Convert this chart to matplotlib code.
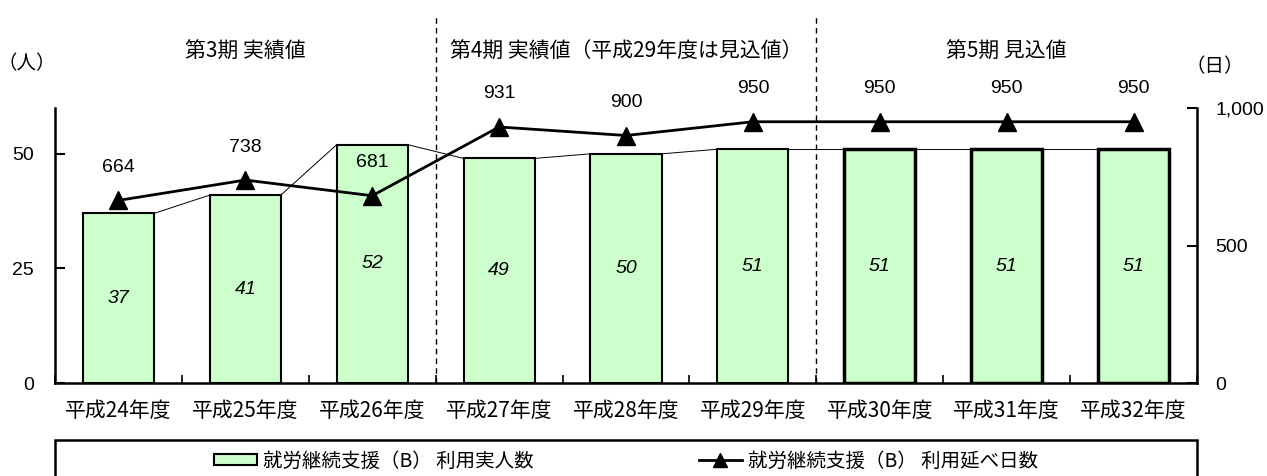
import matplotlib
matplotlib.use("Agg")
import matplotlib.pyplot as plt
from matplotlib.lines import Line2D
from matplotlib.patches import Patch, Rectangle
import numpy as np

JP = ['Noto Sans CJK JP', 'DejaVu Sans']
NUM = ['Liberation Sans', 'DejaVu Sans']
plt.rcParams['font.family'] = JP

categories = ["平成24年度", "平成25年度", "平成26年度", "平成27年度", "平成28年度",
              "平成29年度", "平成30年度", "平成31年度", "平成32年度"]
persons = [37, 41, 52, 49, 50, 51, 51, 51, 51]
days = [664, 738, 681, 931, 900, 950, 950, 950, 950]
period_titles = ["第3期 実績値", "第4期 実績値（平成29年度は見込値）", "第5期 見込値"]
bar_label = "就労継続支援（B） 利用実人数"
line_label = "就労継続支援（B） 利用延べ日数"

W, H = 1267, 476
fig = plt.figure(figsize=(W/100, H/100), dpi=100)
ax = fig.add_axes([55/W, 1-383/H, (1197-55)/W, (383-108)/H])
ax2 = ax.twinx()

x = np.arange(len(categories))
bw = 0.56
lws = [1.5]*6 + [2.5]*3
ax.bar(x, persons, width=bw, color="#CCFFCC", edgecolor="black", linewidth=lws, zorder=2)
for xi, v in zip(x, persons):
    ax.text(xi, v/2, str(v), ha="center", va="center", fontsize=14,
            style="italic", family=NUM)
# series lines
for i in range(len(x)-1):
    ax.plot([x[i]+bw/2, x[i+1]-bw/2], [persons[i], persons[i+1]], color="black", lw=0.7, zorder=1)

ax.set_xlim(-0.5, len(x)-0.5)
ax.set_ylim(0, 60)
ax.set_yticks([0, 25, 50])
ax.set_xticks(x)
ax.set_xticklabels(categories, fontsize=15)
ax.set_xticks(np.arange(-0.5, len(x)), minor=True)
ax.tick_params(axis="x", which="major", length=0, pad=12)
ax.tick_params(axis="x", which="minor", direction="in", length=6, width=1.2)
ax.tick_params(axis="y", direction="in", length=7, width=1.5, pad=15)
for lab in ax.get_yticklabels():
    lab.set_fontsize(14); lab.set_family(NUM)
ax.spines["top"].set_visible(False)
ax2.spines["top"].set_visible(False)
for s in ["left", "bottom"]:
    ax.spines[s].set_linewidth(1.8)
ax2.spines["right"].set_linewidth(1.8)
ax2.spines["left"].set_visible(False)
ax2.spines["bottom"].set_visible(False)

ax2.plot(x, days, color="black", lw=2, marker="^", markersize=13, zorder=5)
ax2.set_ylim(0, 1000)
ax2.set_yticks([0, 500, 1000])
ax2.set_yticklabels(["0", "500", "1,000"])
ax2.tick_params(axis="y", direction="in", length=7, width=1.5, pad=13)
for lab in ax2.get_yticklabels():
    lab.set_fontsize(14); lab.set_family(NUM)
for xi, v in zip(x, days):
    ax2.annotate(str(v), (xi, v), xytext=(0, 33), textcoords="offset pixels",
                 ha="center", va="center", fontsize=14, family=NUM)

for b in [2.5, 5.5]:
    ax.axvline(b, ymin=0, ymax=(383-15)/275, color="black", lw=1, ls=(0, (4, 3)), clip_on=False, zorder=0)

for i, t in enumerate(period_titles):
    ax.text(3*i+1, 1.204, t, transform=ax.get_xaxis_transform(), ha="center", va="center", fontsize=15)

fig.text(27/W, 1-64/H, "（人）", ha="center", va="center", fontsize=14)
fig.text(1215/W, 1-67/H, "（日）", ha="center", va="center", fontsize=14)

# legend frame
fig.patches.append(Rectangle((55/W, -0.05), (1197-55)/W, 0.05+(476-440)/H, transform=fig.transFigure,
                             fill=False, edgecolor="black", lw=1.8))
handles = [Patch(facecolor="#CCFFCC", edgecolor="black", linewidth=1.5),
           Line2D([0], [0], color="black", lw=2, marker="^", markersize=10)]
leg = fig.legend(handles, [bar_label, line_label], loc="center", bbox_to_anchor=(626/W, 1-461/H),
                 ncol=2, frameon=False, fontsize=14, columnspacing=8.5, handlelength=2.2,
                 handletextpad=0.3, handleheight=0.5)

fig.savefig("out.png", dpi=100)
